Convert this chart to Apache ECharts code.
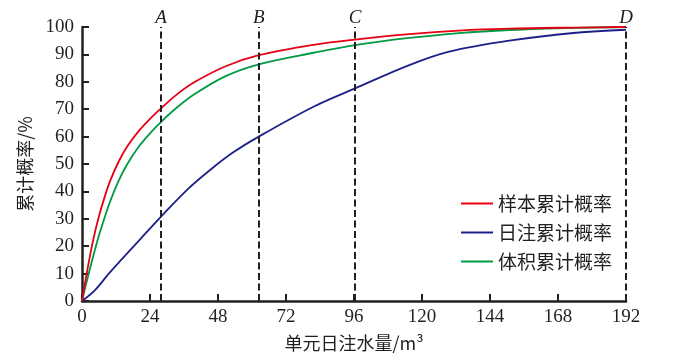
<!DOCTYPE html>
<html>
<head>
<meta charset="utf-8">
<script src="https://cdn.jsdelivr.net/npm/echarts@6/dist/echarts.min.js"></script>
<style>html,body{margin:0;padding:0;background:#fff;}#c{width:686px;height:355px;}</style>
</head>
<body>
<div id="c"></div>
<script>
var xTicks = [0, 24, 48, 72, 96, 120, 144, 168, 192];
var yTicks = [0, 10, 20, 30, 40, 50, 60, 70, 80, 90, 100];
var seriesNames = ['样本累计概率', '日注累计概率', '体积累计概率'];
var sampleCum = [[0,0],[2,12],[4,22.5],[6,31],[8,38],[10,44],[13,51],[16,56.5],[20,62],[24,66.5],[27.9,70.3],[33.5,75.4],[39.9,80],[50.5,85.6],[62.4,89.7],[81.7,93.5],[96.4,95.4],[115.5,97.4],[133,98.7],[150.8,99.4],[174.3,99.8],[192,100]];
var dailyCum = [[0,0],[4.6,4],[9.3,9.8],[14,15.2],[20.5,22.5],[27.9,30.8],[37,40.5],[45.2,47.8],[53,54],[62.4,60],[81.7,70.9],[96.4,77.6],[115.5,86.1],[129.6,91],[150.8,95],[174.3,97.9],[192,99]];
var volumeCum = [[0,0],[2,8.5],[4,16.5],[6,24],[8,30.5],[10,36.5],[13,44],[16,50],[20,56.3],[24,61.2],[27.9,65.4],[33.5,70.6],[39.9,75.6],[50.5,82],[62.4,86.4],[81.7,90.6],[96.4,93.4],[115.5,96],[133,97.8],[150.8,98.9],[174.3,99.7],[192,100]];
var markerNames = ['O', 'A', 'B', 'C', 'D'];
var markerX = [0, 27.9, 62.4, 96.4, 192];

var txt = '#231f20';
var serif = '"Liberation Serif","Times New Roman",serif';
var cjk = '"Noto Sans CJK SC","Noto Sans",sans-serif';

var markData = markerNames.map(function (n, i) {
  var item = { xAxis: markerX[i], name: n };
  if (markerX[i] === 0) { item.lineStyle = { opacity: 0 }; }
  return item;
});

function curve(name, data, color) {
  return {
    name: name, type: 'line', data: data, smooth: 0.35,
    symbol: 'none', lineStyle: { color: color, width: 1.8 }, itemStyle: { color: color }
  };
}

var chart = echarts.init(document.getElementById('c'));
chart.setOption({
  animation: false,
  backgroundColor: '#fff',
  grid: { left: 82, right: 60, top: 27, bottom: 54, containLabel: false, outerBoundsMode: 'none' },
  legend: {
    data: seriesNames,
    orient: 'vertical',
    left: 461,
    top: 194,
    padding: 0,
    itemWidth: 32,
    itemHeight: 14,
    itemGap: 10,
    icon: 'path://M0,6 L32,6 L32,8 L0,8 Z',
    textStyle: { fontFamily: cjk, fontSize: 19, lineHeight: 19, color: txt }
  },
  xAxis: {
    type: 'value', min: xTicks[0], max: xTicks[xTicks.length - 1], interval: 24,
    name: '单元日注水量/m³', nameLocation: 'middle', nameGap: 33,
    nameTextStyle: { fontFamily: cjk, fontSize: 18, color: txt },
    axisLine: { lineStyle: { color: txt, width: 2.5 } },
    axisTick: { inside: true, length: 7, lineStyle: { color: txt, width: 2 } },
    axisLabel: { fontFamily: serif, fontSize: 19, color: txt, margin: 7 },
    splitLine: { show: false }
  },
  yAxis: {
    type: 'value', min: yTicks[0], max: yTicks[yTicks.length - 1], interval: 10,
    name: '累计概率/%', nameLocation: 'middle', nameGap: 42, nameRotate: 90,
    nameTextStyle: { fontFamily: cjk, fontSize: 18, color: txt },
    axisLine: { lineStyle: { color: txt, width: 2.5 } },
    axisTick: { inside: true, length: 7, lineStyle: { color: txt, width: 2 } },
    axisLabel: { fontFamily: serif, fontSize: 19, color: txt, margin: 8 },
    splitLine: { show: false }
  },
  series: [
    {
      name: 'marks', type: 'line', data: [], silent: true,
      markLine: {
        silent: true, symbol: ['none', 'none'],
        lineStyle: { color: txt, width: 2, type: [7, 3.5] },
        label: { show: true, position: 'end', distance: 0, formatter: '{b}', fontFamily: serif, fontStyle: 'italic', fontSize: 19, color: txt },
        data: markData
      }
    },
    curve(seriesNames[1], dailyCum, '#1d2088'),
    curve(seriesNames[2], volumeCum, '#009944'),
    curve(seriesNames[0], sampleCum, '#e60012')
  ]
});
</script>
</body>
</html>
